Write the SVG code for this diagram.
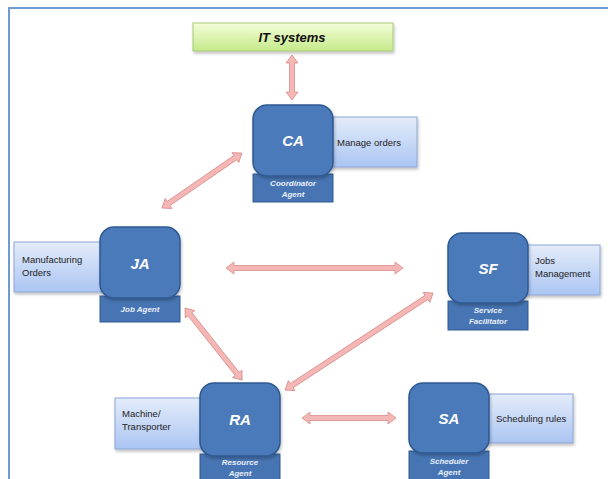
<svg xmlns="http://www.w3.org/2000/svg" width="608" height="479" viewBox="0 0 608 479">
<defs>
<linearGradient id="gGreen" x1="0" y1="0" x2="0" y2="1"><stop offset="0" stop-color="#f3fdd9"/><stop offset="1" stop-color="#c6ea8a"/></linearGradient>
<linearGradient id="gNote" x1="0" y1="0" x2="0" y2="1"><stop offset="0" stop-color="#e4ecfb"/><stop offset="1" stop-color="#abc5f2"/></linearGradient>
<filter id="sh" x="-10%" y="-10%" width="130%" height="140%"><feDropShadow dx="1" dy="2" stdDeviation="1.5" flood-color="#000" flood-opacity="0.25"/></filter>
</defs>
<style>
.frame{fill:none;stroke:#6e9bd6;stroke-width:2}
.it{fill:url(#gGreen);stroke:#a9c97a;stroke-width:1;filter:url(#sh)}
.note{fill:url(#gNote);stroke:#8ea6d6;stroke-width:1;filter:url(#sh)}
.agent{fill:#4b7abb;stroke:#2f5a92;stroke-width:1.5;filter:url(#sh)}
.bar{fill:#4775b3;stroke:#2f5a92;stroke-width:1}
.ntxt{font-family:"Liberation Sans",Arial,sans-serif;font-size:9.5px;fill:#222}
.atxt{font-family:"Liberation Sans",Arial,sans-serif;font-size:15px;font-weight:bold;font-style:italic;fill:#fff;text-anchor:middle}
.btxt{font-family:"Liberation Sans",Arial,sans-serif;font-size:8px;font-weight:bold;font-style:italic;fill:#e8eefa;text-anchor:middle}
.ittxt{font-family:"Liberation Sans",Arial,sans-serif;font-size:13px;font-weight:bold;font-style:italic;fill:#111;text-anchor:middle}
.arr{fill:#f5b7b5;stroke:#d98d8b;stroke-width:0.8}
</style>
<rect width="608" height="479" fill="#fff"/>
<path class="frame" d="M 609 8 H 9 V 480"/>

<g id="connectors">
<polygon class="arr" transform="translate(292,55) rotate(90)" points="0,0 8,-6 8,-2.5 37,-2.5 37,-6 45,0 37,6 37,2.5 8,2.5 8,6"/>
<polygon class="arr" transform="translate(162,208) rotate(-34.5)" points="0,0 8,-6 8,-2.5 89,-2.5 89,-6 97,0 89,6 89,2.5 8,2.5 8,6"/>
<polygon class="arr" transform="translate(226,268)" points="0,0 8,-6 8,-2.5 169,-2.5 169,-6 177,0 169,6 169,2.5 8,2.5 8,6"/>
<polygon class="arr" transform="translate(185,308) rotate(51.6)" points="0,0 8,-6 8,-2.5 84,-2.5 84,-6 92,0 84,6 84,2.5 8,2.5 8,6"/>
<polygon class="arr" transform="translate(285,390) rotate(-33.2)" points="0,0 8,-6 8,-2.5 169,-2.5 169,-6 177,0 169,6 169,2.5 8,2.5 8,6"/>
<polygon class="arr" transform="translate(302,418)" points="0,0 8,-6 8,-2.5 86,-2.5 86,-6 94,0 86,6 86,2.5 8,2.5 8,6"/>
</g>

<g id="it-systems">
<rect class="it" x="193" y="23" width="200" height="28"/>
<text class="ittxt" x="292" y="42">IT systems</text>
</g>

<g id="ca">
<rect class="note" x="330" y="117" width="87" height="50"/>
<text class="ntxt" x="337" y="146">Manage orders</text>
<rect class="bar" x="253" y="174" width="80" height="28"/>
<rect class="agent" x="253" y="105" width="80" height="71" rx="14"/>
<text class="atxt" x="293" y="146">CA</text>
<text class="btxt" x="293" y="186">Coordinator</text>
<text class="btxt" x="293" y="197">Agent</text>
</g>

<g id="ja">
<rect class="note" x="14" y="242" width="89" height="50"/>
<text class="ntxt" x="22" y="263">Manufacturing</text>
<text class="ntxt" x="22" y="276">Orders</text>
<rect class="bar" x="100" y="296" width="80" height="26"/>
<rect class="agent" x="100" y="227" width="80" height="71" rx="14"/>
<text class="atxt" x="140" y="269">JA</text>
<text class="btxt" x="140" y="312">Job Agent</text>
</g>

<g id="sf">
<rect class="note" x="525" y="245" width="75" height="50"/>
<text class="ntxt" x="535" y="264">Jobs</text>
<text class="ntxt" x="535" y="277">Management</text>
<rect class="bar" x="448" y="301" width="80" height="29"/>
<rect class="agent" x="448" y="233" width="80" height="70" rx="14"/>
<text class="atxt" x="488" y="274">SF</text>
<text class="btxt" x="488" y="313">Service</text>
<text class="btxt" x="488" y="324">Facilitator</text>
</g>

<g id="ra">
<rect class="note" x="115" y="398" width="88" height="51"/>
<text class="ntxt" x="122" y="417">Machine/</text>
<text class="ntxt" x="122" y="430">Transporter</text>
<rect class="bar" x="200" y="454" width="80" height="27"/>
<rect class="agent" x="200" y="383" width="80" height="73" rx="14"/>
<text class="atxt" x="240" y="425">RA</text>
<text class="btxt" x="240" y="465">Resource</text>
<text class="btxt" x="240" y="476">Agent</text>
</g>

<g id="sa">
<rect class="note" x="486" y="394" width="87" height="49"/>
<text class="ntxt" x="496" y="422">Scheduling rules</text>
<rect class="bar" x="409" y="451" width="80" height="30"/>
<rect class="agent" x="409" y="383" width="80" height="70" rx="14"/>
<text class="atxt" x="449" y="424">SA</text>
<text class="btxt" x="449" y="464">Scheduler</text>
<text class="btxt" x="449" y="475">Agent</text>
</g>
</svg>
